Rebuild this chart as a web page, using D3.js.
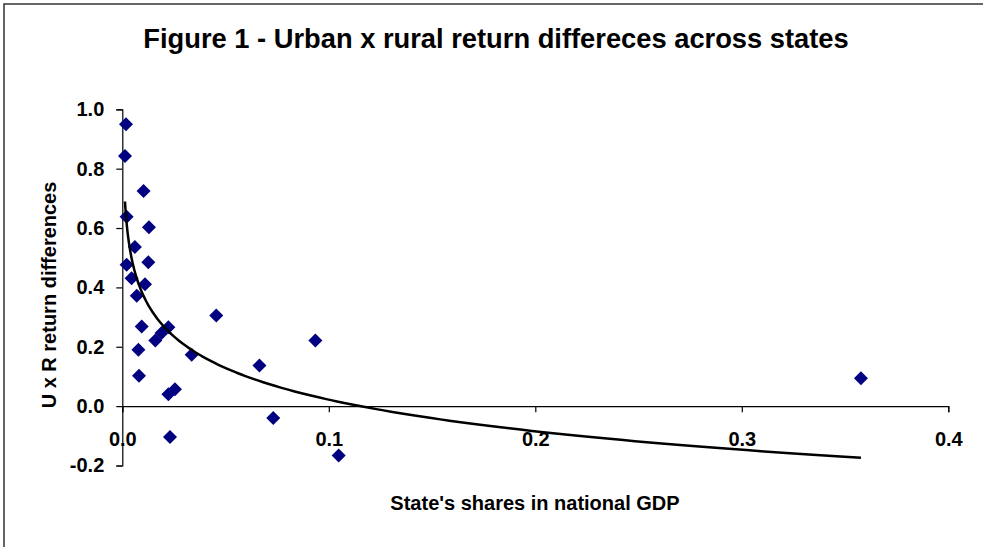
<!DOCTYPE html>
<html>
<head>
<meta charset="utf-8">
<script src="https://cdn.jsdelivr.net/npm/d3@7"></script>
<style>
  body { margin: 0; background: #fff; }
  svg text { font-family: "Liberation Sans", Arial, sans-serif; font-weight: bold; fill: #000; }
</style>
</head>
<body>
<svg width="983" height="547"></svg>
<script>
// state's share in national GDP
const shareGDP = [0.0018, 0.0013, 0.0103, 0.0021, 0.0129, 0.0061, 0.0126, 0.0021, 0.0045,
  0.0110, 0.0070, 0.0455, 0.0094, 0.0223, 0.0190, 0.0160, 0.0078, 0.0336, 0.0081,
  0.0255, 0.0223, 0.0231, 0.0664, 0.0935, 0.0731, 0.1048, 0.3577];
// urban x rural return differences
const returnDiff = [0.950, 0.843, 0.725, 0.638, 0.603, 0.536, 0.485, 0.476, 0.431,
  0.411, 0.372, 0.305, 0.268, 0.266, 0.246, 0.221, 0.190, 0.173, 0.102,
  0.057, 0.040, -0.104, 0.137, 0.221, -0.040, -0.166, 0.094];
const xTicks = [0, 0.1, 0.2, 0.3, 0.4];
const yTicks = [-0.2, 0, 0.2, 0.4, 0.6, 0.8, 1.0];

const svg = d3.select("svg");

// chart border
svg.append("rect")
  .attr("x", 4).attr("y", 4)
  .attr("width", 990).attr("height", 560)
  .attr("fill", "none").attr("stroke", "#333").attr("stroke-width", 1.5);

const x = d3.scaleLinear().domain([0, 0.4]).range([122.3, 948.3]);
const y = d3.scaleLinear().domain([-0.2, 1.0]).range([465.5, 109.3]);

// excel style labels, plain hyphen for negatives
const fmt = d => d3.format(".1f")(d).replace("\u2212", "-");

// title
svg.append("text")
  .attr("x", 496).attr("y", 48)
  .attr("text-anchor", "middle")
  .style("font-size", "27.3px")
  .text("Figure 1 - Urban x rural return differeces across states");

// y axis
const yAxis = svg.append("g")
  .attr("transform", `translate(${x(0)},0)`)
  .call(d3.axisLeft(y).tickValues(yTicks).tickSize(6).tickPadding(12).tickFormat(fmt));
yAxis.select(".domain").attr("stroke", "#000").attr("stroke-width", 1.2);
yAxis.selectAll("line").attr("stroke", "#000").attr("stroke-width", 1.2);
yAxis.selectAll("text").style("font-size", "20px").style("font-family", null);

// x axis crossing at zero
const xAxis = svg.append("g")
  .attr("transform", `translate(0,${y(0)})`)
  .call(d3.axisBottom(x).tickValues(xTicks).tickSize(6).tickPadding(20).tickFormat(fmt));
xAxis.select(".domain").attr("stroke", "#000").attr("stroke-width", 1.2);
xAxis.selectAll("line").attr("stroke", "#000").attr("stroke-width", 1.2);
xAxis.selectAll("text").style("font-size", "20px").style("font-family", null);

// axis titles
svg.append("text")
  .attr("x", 535).attr("y", 510)
  .attr("text-anchor", "middle")
  .style("font-size", "20px")
  .text("State's shares in national GDP");

svg.append("text")
  .attr("transform", "translate(56,295) rotate(-90)")
  .attr("text-anchor", "middle")
  .style("font-size", "20px")
  .text("U x R return differences");

// points
const pts = shareGDP.map((v, i) => ({x: v, y: returnDiff[i]}));
svg.append("g")
  .selectAll("path")
  .data(pts)
  .enter().append("path")
  .attr("transform", d => `translate(${x(d.x)},${y(d.y)})`)
  .attr("d", "M0,-7L7,0L0,7L-7,0Z")
  .attr("fill", "#000080");

// logarithmic trend line (least squares of y on ln x)
const lx = shareGDP.map(Math.log);
const mx = d3.mean(lx), my = d3.mean(returnDiff);
const slope = d3.sum(lx, (v, i) => (v - mx) * (returnDiff[i] - my)) / d3.sum(lx, v => (v - mx) * (v - mx));
const icpt = my - slope * mx;
const [x0, x1] = d3.extent(shareGDP);
const trend = d3.range(0, 201).map(i => {
  const v = Math.exp(Math.log(x0) + (Math.log(x1) - Math.log(x0)) * i / 200);
  return [v, slope * Math.log(v) + icpt];
});
svg.append("path")
  .datum(trend)
  .attr("fill", "none")
  .attr("stroke", "#000")
  .attr("stroke-width", 2.5)
  .attr("d", d3.line().x(d => x(d[0])).y(d => y(d[1])));
</script>
</body>
</html>
